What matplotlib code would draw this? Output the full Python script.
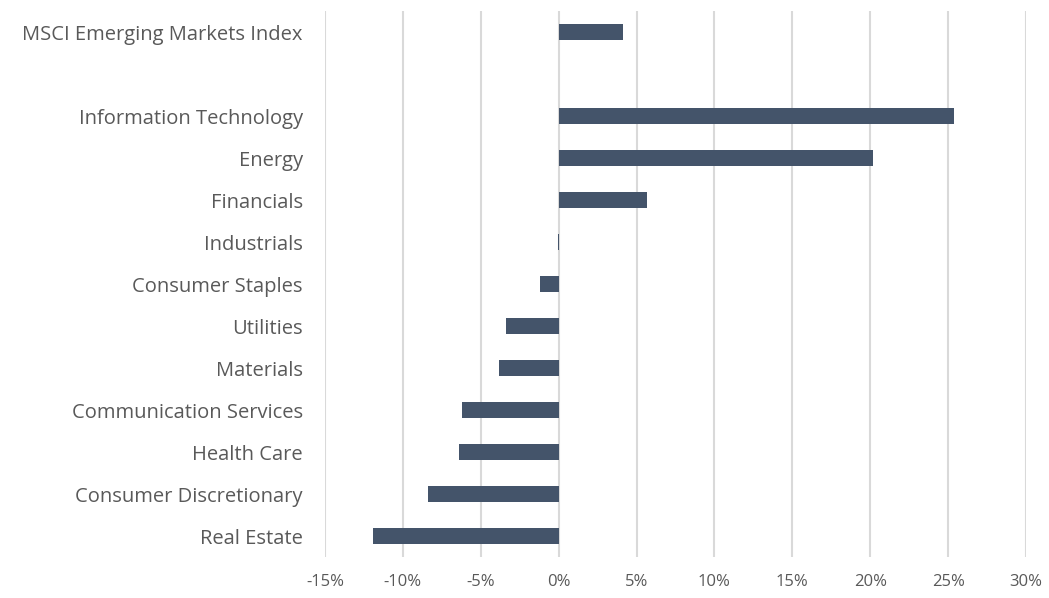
import numpy as np
import matplotlib
matplotlib.use('Agg')
import matplotlib.pyplot as plt
from matplotlib.ticker import FuncFormatter

plt.rcParams['font.family'] = ['Open Sans', 'DejaVu Sans']

# 資料
categories = ['MSCI Emerging Markets Index',
              'Information Technology', 'Energy', 'Financials', 'Industrials',
              'Consumer Staples', 'Utilities', 'Materials', 'Communication Services',
              'Health Care', 'Consumer Discretionary', 'Real Estate']
values = [4.1, 25.4, 20.2, 5.7, -0.05, -1.2, -3.4, -3.8, -6.2, -6.4, -8.4, -11.9]
xticks = [-15, -10, -5, 0, 5, 10, 15, 20, 25, 30]

bar_color = '#44546A'
text_color = '#595959'

# 指數和行業之間留一格空白
ypos = [0] + list(range(2, len(categories) + 1))

fig = plt.figure(figsize=(10.49, 5.98), dpi=100)
ax = fig.add_axes([325 / 1049, 1 - 557 / 598, (1026 - 325) / 1049, 546 / 598])

ax.barh(ypos, values, height=0.36, color=bar_color, zorder=3)

ax.set_xlim(-15, 30)
ax.set_ylim(len(categories) + 0.5, -0.5)
ax.set_xticks(xticks)
ax.xaxis.set_major_formatter(FuncFormatter(lambda v, p: f'{v:.0f}%'))
ax.set_yticks(ypos)
ax.set_yticklabels(categories)

ax.grid(axis='x', color='#D9D9D9', linewidth=1.5, zorder=0)
for s in ax.spines.values():
    s.set_visible(False)
ax.tick_params(axis='both', length=0, labelcolor=text_color)
ax.tick_params(axis='y', pad=16, labelsize=14.5)
ax.tick_params(axis='x', pad=12, labelsize=12)

fig.savefig('out.png', dpi=100)
